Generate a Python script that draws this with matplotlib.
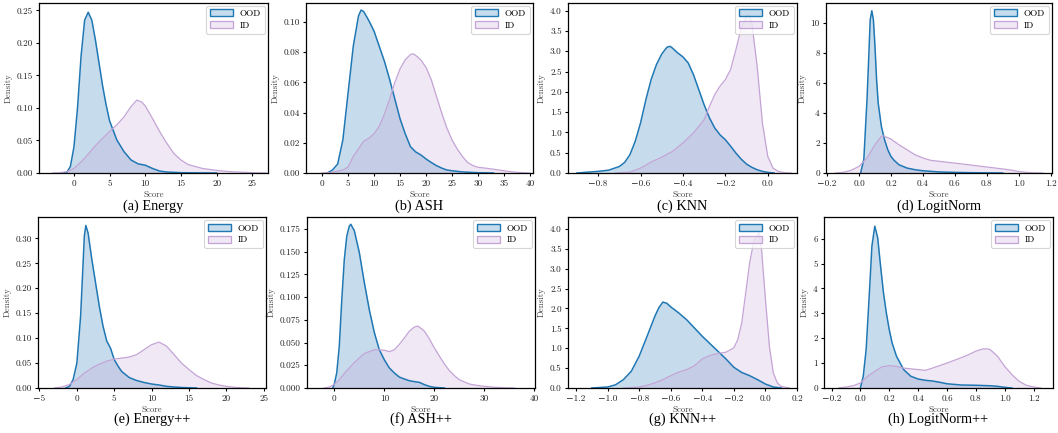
import numpy as np
import matplotlib
matplotlib.use("Agg")
import matplotlib.pyplot as plt

plt.rcParams["font.family"] = ["cmr10", "DejaVu Serif"]
plt.rcParams["axes.formatter.use_mathtext"] = True
plt.rcParams["mathtext.fontset"] = "cm"

OOD_COLOR = "#1f77b4"
ID_COLOR = "#c4a4d6"

# ---------------- score densities (x, density) ----------------
# (a) Energy
energy_ood_x = [-1.5, -1.0, -0.5, 0, 0.5, 1, 1.5, 2, 2.5, 3, 3.5, 4, 4.5, 5, 6, 7, 8, 9, 10, 11, 12, 13, 15, 17, 20]
energy_ood_y = [0, 0.001, 0.01, 0.04, 0.10, 0.18, 0.235, 0.247, 0.235, 0.205, 0.17, 0.135, 0.105, 0.08, 0.051, 0.033, 0.02, 0.014, 0.012, 0.007, 0.003, 0.0015, 0.0005, 0.0002, 0]
energy_id_x = [-3, -2, -1, 0, 1, 2, 3, 4, 5, 6, 7, 8, 8.8, 9.5, 10, 11, 12, 13, 14, 15, 16, 17, 18, 20, 22, 25, 27]
energy_id_y = [0, 0.0005, 0.002, 0.007, 0.017, 0.029, 0.042, 0.053, 0.064, 0.074, 0.086, 0.102, 0.112, 0.109, 0.103, 0.084, 0.064, 0.046, 0.030, 0.020, 0.013, 0.010, 0.007, 0.004, 0.002, 0.0005, 0]

# (b) ASH
ash_ood_x = [1.0, 2, 3, 4, 5, 6, 7, 7.5, 8, 9, 10, 11, 12, 13, 14, 15, 16, 17, 18, 19, 20, 21, 22, 23, 24, 25, 27, 30, 33]
ash_ood_y = [0, 0.002, 0.006, 0.022, 0.053, 0.084, 0.104, 0.108, 0.107, 0.101, 0.094, 0.084, 0.074, 0.062, 0.049, 0.036, 0.026, 0.0175, 0.014, 0.012, 0.0093, 0.007, 0.0049, 0.0033, 0.002, 0.0015, 0.0007, 0.0002, 0]
ash_id_x = [0, 2, 4, 5, 6, 7, 8, 9, 10, 11, 12, 13, 14, 15, 16, 17, 17.5, 18, 19, 20, 21, 22, 23, 24, 25, 26, 27, 28, 29, 30, 32, 34, 36, 38, 40]
ash_id_y = [0, 0.0005, 0.002, 0.004, 0.011, 0.016, 0.021, 0.023, 0.026, 0.031, 0.039, 0.049, 0.060, 0.069, 0.075, 0.0785, 0.079, 0.078, 0.075, 0.070, 0.062, 0.051, 0.040, 0.030, 0.022, 0.016, 0.011, 0.007, 0.005, 0.0038, 0.003, 0.002, 0.001, 0.0003, 0]

# (c) KNN
knn_ood_x = [-0.9, -0.8, -0.75, -0.7, -0.675, -0.65, -0.625, -0.6, -0.575, -0.55, -0.525, -0.5, -0.475, -0.46, -0.45, -0.425, -0.4, -0.375, -0.35, -0.325, -0.3, -0.275, -0.25, -0.225, -0.2, -0.175, -0.15, -0.125, -0.1, -0.075, -0.05, -0.025, 0.0, 0.03]
knn_ood_y = [0, 0.04, 0.07, 0.16, 0.26, 0.45, 0.78, 1.23, 1.8, 2.3, 2.67, 2.93, 3.1, 3.12, 3.08, 2.96, 2.86, 2.71, 2.42, 2.05, 1.68, 1.36, 1.11, 0.94, 0.82, 0.66, 0.49, 0.34, 0.22, 0.14, 0.08, 0.04, 0.015, 0]
knn_id_x = [-0.72, -0.65, -0.6, -0.55, -0.5, -0.45, -0.4, -0.35, -0.3, -0.275, -0.25, -0.225, -0.2, -0.175, -0.15, -0.125, -0.1, -0.09, -0.075, -0.05, -0.025, 0.0, 0.025, 0.05, 0.08, 0.11]
knn_id_y = [0, 0.02, 0.12, 0.27, 0.39, 0.53, 0.74, 0.99, 1.31, 1.64, 1.93, 2.14, 2.3, 2.55, 3.04, 3.57, 3.86, 3.9, 3.7, 2.63, 1.23, 0.41, 0.12, 0.04, 0.005, 0]

# (d) LogitNorm
ln_ood_x = [0.01, 0.03, 0.05, 0.06, 0.07, 0.08, 0.09, 0.1, 0.11, 0.12, 0.14, 0.16, 0.18, 0.2, 0.22, 0.25, 0.3, 0.35, 0.4, 0.45, 0.5, 0.6, 0.7, 0.8, 0.9]
ln_ood_y = [0, 0.9, 4.9, 7.5, 10.2, 10.8, 10.2, 8.4, 6.2, 4.66, 3.1, 2.2, 1.55, 1.1, 0.84, 0.55, 0.33, 0.22, 0.15, 0.11, 0.07, 0.04, 0.02, 0.01, 0]
ln_id_x = [-0.15, -0.1, -0.05, 0.0, 0.05, 0.1, 0.14, 0.15, 0.2, 0.25, 0.3, 0.35, 0.4, 0.45, 0.5, 0.6, 0.7, 0.8, 0.9, 0.95, 1.0, 1.05, 1.1, 1.15]
ln_id_y = [0, 0.04, 0.18, 0.44, 1.0, 1.88, 2.44, 2.48, 2.26, 1.88, 1.55, 1.22, 1.0, 0.84, 0.78, 0.66, 0.53, 0.4, 0.27, 0.2, 0.1, 0.04, 0.01, 0]

# (e) Energy++
energypp_ood_x = [-1.5, -1, -0.5, 0, 0.5, 0.75, 1, 1.2, 1.5, 2, 2.5, 3, 3.5, 4, 4.5, 5, 5.5, 6, 7, 8, 9, 10, 11, 12, 13, 14, 16]
energypp_ood_y = [0, 0.003, 0.017, 0.05, 0.144, 0.224, 0.305, 0.326, 0.311, 0.258, 0.211, 0.164, 0.124, 0.094, 0.08, 0.057, 0.044, 0.033, 0.021, 0.015, 0.011, 0.008, 0.006, 0.0034, 0.002, 0.001, 0]
energypp_id_x = [-3, -2, -1, 0, 1, 2, 3, 4, 5, 6, 7, 8, 9, 10, 11, 12, 13, 14, 15, 16, 17, 18, 19, 20, 21, 22, 23]
energypp_id_y = [0, 0.002, 0.007, 0.017, 0.030, 0.040, 0.048, 0.054, 0.058, 0.060, 0.062, 0.067, 0.077, 0.087, 0.092, 0.084, 0.067, 0.050, 0.037, 0.025, 0.017, 0.010, 0.006, 0.0034, 0.0015, 0.0005, 0]

# (f) ASH++
ashpp_ood_x = [-0.3, 0, 0.5, 1, 1.5, 2, 2.5, 3, 3.3, 4, 5, 6, 7, 8, 9, 10, 11, 12, 13, 14, 15, 16, 17, 18, 19, 20, 22]
ashpp_ood_y = [0, 0.004, 0.017, 0.046, 0.097, 0.141, 0.167, 0.178, 0.180, 0.173, 0.149, 0.116, 0.086, 0.061, 0.042, 0.031, 0.022, 0.0165, 0.012, 0.0099, 0.008, 0.007, 0.0062, 0.0037, 0.0018, 0.0007, 0]
ashpp_id_x = [-2, -1, 0, 1, 2, 3, 4, 5, 6, 7, 8, 9, 10, 11, 12, 13, 14, 15, 16, 16.7, 17, 18, 19, 20, 21, 22, 23, 24, 25, 26, 27, 28, 30, 32, 34, 36]
ashpp_id_y = [0, 0.001, 0.004, 0.009, 0.016, 0.022, 0.028, 0.033, 0.038, 0.040, 0.042, 0.042, 0.0415, 0.040, 0.042, 0.048, 0.055, 0.0625, 0.067, 0.068, 0.067, 0.0625, 0.054, 0.044, 0.035, 0.0265, 0.019, 0.0136, 0.009, 0.0066, 0.0044, 0.0033, 0.0018, 0.0008, 0.0003, 0]

# (g) KNN++
knnpp_ood_x = [-1.1, -1.0, -0.95, -0.9, -0.85, -0.8, -0.75, -0.7, -0.675, -0.65, -0.625, -0.6, -0.55, -0.5, -0.45, -0.4, -0.35, -0.3, -0.25, -0.2, -0.15, -0.1, -0.05, 0.0, 0.05, 0.1]
knnpp_ood_y = [0, 0.025, 0.08, 0.21, 0.42, 0.8, 1.3, 1.81, 2.02, 2.16, 2.13, 2.04, 1.89, 1.72, 1.51, 1.3, 1.11, 0.92, 0.73, 0.52, 0.39, 0.31, 0.21, 0.1, 0.025, 0]
knnpp_id_x = [-0.9, -0.8, -0.75, -0.7, -0.65, -0.6, -0.55, -0.5, -0.45, -0.4, -0.35, -0.3, -0.25, -0.2, -0.175, -0.15, -0.125, -0.1, -0.075, -0.05, -0.04, -0.025, 0.0, 0.025, 0.05, 0.075, 0.1, 0.15]
knnpp_id_y = [0, 0.025, 0.07, 0.13, 0.21, 0.31, 0.40, 0.46, 0.56, 0.73, 0.82, 0.87, 0.90, 1.01, 1.22, 1.64, 2.39, 3.15, 3.66, 3.85, 3.9, 3.5, 2.23, 1.05, 0.38, 0.13, 0.04, 0]

# (h) LogitNorm++
lnpp_ood_x = [0.0, 0.02, 0.04, 0.06, 0.08, 0.1, 0.12, 0.14, 0.16, 0.18, 0.2, 0.22, 0.25, 0.3, 0.35, 0.4, 0.45, 0.5, 0.55, 0.6, 0.7, 0.8, 0.9, 0.95, 1.0, 1.05]
lnpp_ood_y = [0, 0.47, 1.54, 3.56, 5.7, 6.5, 6.04, 4.9, 3.83, 3.02, 2.35, 1.81, 1.28, 0.74, 0.47, 0.36, 0.31, 0.28, 0.23, 0.17, 0.12, 0.11, 0.09, 0.067, 0.027, 0]
lnpp_id_x = [-0.15, -0.1, -0.05, 0.0, 0.05, 0.1, 0.15, 0.2, 0.25, 0.3, 0.35, 0.4, 0.45, 0.5, 0.55, 0.6, 0.65, 0.7, 0.75, 0.8, 0.85, 0.88, 0.9, 0.95, 1.0, 1.05, 1.1, 1.15, 1.2, 1.25]
lnpp_id_y = [0, 0.04, 0.09, 0.2, 0.47, 0.67, 0.85, 0.9, 0.87, 0.8, 0.77, 0.74, 0.71, 0.8, 0.9, 1.0, 1.11, 1.22, 1.34, 1.48, 1.57, 1.57, 1.54, 1.28, 0.87, 0.54, 0.27, 0.11, 0.04, 0]

captions = ["(a) Energy", "(b) ASH", "(c) KNN", "(d) LogitNorm",
            "(e) Energy++", "(f) ASH++", "(g) KNN++", "(h) LogitNorm++"]

panels = [
    (energy_ood_x, energy_ood_y, energy_id_x, energy_id_y),
    (ash_ood_x, ash_ood_y, ash_id_x, ash_id_y),
    (knn_ood_x, knn_ood_y, knn_id_x, knn_id_y),
    (ln_ood_x, ln_ood_y, ln_id_x, ln_id_y),
    (energypp_ood_x, energypp_ood_y, energypp_id_x, energypp_id_y),
    (ashpp_ood_x, ashpp_ood_y, ashpp_id_x, ashpp_id_y),
    (knnpp_ood_x, knnpp_ood_y, knnpp_id_x, knnpp_id_y),
    (lnpp_ood_x, lnpp_ood_y, lnpp_id_x, lnpp_id_y),
]

xlims = [(-4.9, 27.2), (-3.1, 40.6), (-0.942, 0.138), (-0.207, 1.209),
         (-5.2, 25.3), (-5.45, 40.1), (-1.251, 0.198), (-0.252, 1.335)]
ylims = [(0, 0.262), (0, 0.113), (0, 4.2), (0, 11.35),
         (0, 0.343), (0, 0.188), (0, 4.3), (0, 6.87)]
xticks = [[0, 5, 10, 15, 20, 25], [0, 5, 10, 15, 20, 25, 30, 35, 40],
          [-0.8, -0.6, -0.4, -0.2, 0.0], [-0.2, 0.0, 0.2, 0.4, 0.6, 0.8, 1.0, 1.2],
          [-5, 0, 5, 10, 15, 20, 25], [0, 10, 20, 30, 40],
          [-1.2, -1.0, -0.8, -0.6, -0.4, -0.2, 0.0, 0.2],
          [-0.2, 0.0, 0.2, 0.4, 0.6, 0.8, 1.0, 1.2]]
yticks = [[0, 0.05, 0.10, 0.15, 0.20, 0.25], [0, 0.02, 0.04, 0.06, 0.08, 0.10],
          [0, 0.5, 1, 1.5, 2, 2.5, 3, 3.5, 4], [0, 2, 4, 6, 8, 10],
          [0, 0.05, 0.10, 0.15, 0.20, 0.25, 0.30], [0, 0.025, 0.05, 0.075, 0.1, 0.125, 0.15, 0.175],
          [0, 0.5, 1, 1.5, 2, 2.5, 3, 3.5, 4], [0, 1, 2, 3, 4, 5, 6]]
yfmt = ["%.2f", "%.2f", "%.1f", "%d", "%.2f", "%.3f", "%.1f", "%d"]
xfmt = ["%d", "%d", "%.1f", "%.1f", "%d", "%d", "%.1f", "%.1f"]

W, H = 1058, 433
fig = plt.figure(figsize=(W / 100, H / 100), dpi=100)

# axes boxes in pixels: (left, right, top, bottom)
boxes = [(39, 268, 2.5, 173), (306, 533, 2.5, 173), (568, 797, 2.5, 173), (826, 1052, 2.5, 173),
         (38, 266, 217, 388), (307, 535, 217, 388), (568, 797, 217, 388), (824, 1053, 217, 388)]
caption_y = [206, 206, 206, 206, 419, 419, 419, 419]


def fmt_tick(fmt, v):
    s = fmt % v
    return s.replace("-", "\u2212")


for i, (ox, oy, ix, iy) in enumerate(panels):
    l, r, t, b = boxes[i]
    ax = fig.add_axes([l / W, 1 - b / H, (r - l) / W, (b - t) / H])
    ax.fill_between(ox, oy, color=OOD_COLOR, alpha=0.25, lw=0)
    ax.plot(ox, oy, color=OOD_COLOR, lw=1.1)
    ax.fill_between(ix, iy, color=ID_COLOR, alpha=0.25, lw=0)
    ax.plot(ix, iy, color=ID_COLOR, lw=0.9)

    ax.set_xlim(*xlims[i])
    ax.set_ylim(*ylims[i])
    ax.set_xticks(xticks[i])
    ax.set_xticklabels([fmt_tick(xfmt[i], v) for v in xticks[i]])
    ax.set_yticks(yticks[i])
    ax.set_yticklabels([fmt_tick(yfmt[i], v) for v in yticks[i]])
    ax.tick_params(labelsize=6.6, length=2.5, width=0.8, pad=2, labelcolor="#222222")
    for s in ax.spines.values():
        s.set_linewidth(0.9)
    ax.set_xlabel("Score", fontsize=6.4, labelpad=2, color="#444444")
    ax.set_ylabel("Density", fontsize=6.4, labelpad=3, color="#444444")

    h_ood = plt.Rectangle((0, 0), 1, 1, edgecolor=OOD_COLOR, linewidth=1.0)
    h_ood.set_facecolor(matplotlib.colors.to_rgba(OOD_COLOR, 0.25))
    h_id = plt.Rectangle((0, 0), 1, 1, edgecolor=ID_COLOR, linewidth=0.9)
    h_id.set_facecolor(matplotlib.colors.to_rgba(ID_COLOR, 0.25))
    leg = ax.legend([h_ood, h_id], ["OOD", "ID"], loc="upper right", fontsize=6.6,
                    frameon=True, fancybox=True, borderpad=0.4, handlelength=2.6,
                    handleheight=0.8, labelspacing=0.35, handletextpad=0.7,
                    borderaxespad=0.35)
    leg.get_frame().set_edgecolor("#cccccc")
    leg.get_frame().set_linewidth(0.8)

    fig.text((l + r) / 2 / W, 1 - caption_y[i] / H, captions[i],
             family=["Liberation Serif"], fontsize=10.3, ha="center", va="center")

fig.savefig("out.png", dpi=100)
